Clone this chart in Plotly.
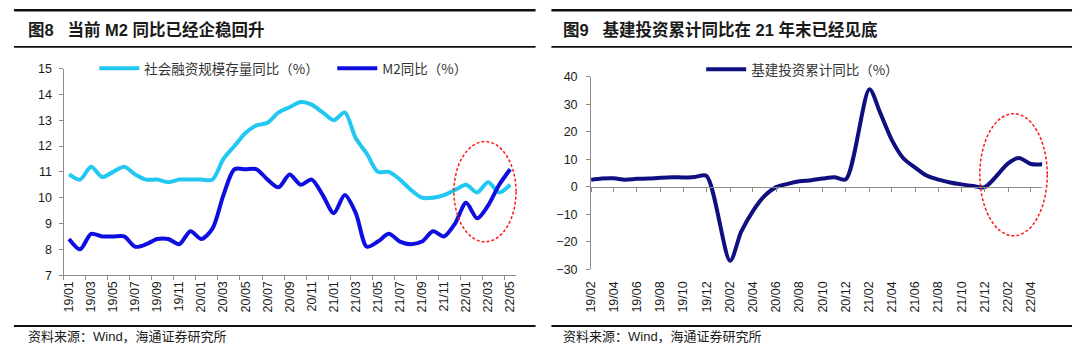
import plotly.graph_objects as go

# ---------------- data: left panel (monthly, 19/01 - 22/05) ----------------
months_left = ['19/01', '19/02', '19/03', '19/04', '19/05', '19/06', '19/07', '19/08', '19/09', '19/10', '19/11', '19/12',
               '20/01', '20/02', '20/03', '20/04', '20/05', '20/06', '20/07', '20/08', '20/09', '20/10', '20/11', '20/12',
               '21/01', '21/02', '21/03', '21/04', '21/05', '21/06', '21/07', '21/08', '21/09', '21/10', '21/11', '21/12',
               '22/01', '22/02', '22/03', '22/04', '22/05']
tsf_yoy = [10.9, 10.7, 11.2, 10.8, 11.0, 11.2, 10.9, 10.7, 10.7, 10.6, 10.7, 10.7,
           10.7, 10.7, 11.5, 12.0, 12.5, 12.8, 12.9, 13.3, 13.5, 13.7, 13.6, 13.3,
           13.0, 13.3, 12.3, 11.7, 11.0, 11.0, 10.7, 10.3, 10.0, 10.0, 10.1, 10.3,
           10.5, 10.2, 10.6, 10.2, 10.5]
m2_yoy = [8.4, 8.0, 8.6, 8.5, 8.5, 8.5, 8.1, 8.2, 8.4, 8.4, 8.2, 8.7,
          8.4, 8.8, 10.1, 11.1, 11.1, 11.1, 10.7, 10.4, 10.9, 10.5, 10.7, 10.1,
          9.4, 10.1, 9.4, 8.1, 8.3, 8.6, 8.3, 8.2, 8.3, 8.7, 8.5, 9.0,
          9.8, 9.2, 9.7, 10.5, 11.1]

# ---------------- data: right panel (cumulative, Jan merged into Feb) ----------------
months_right = ['2019-02-01', '2019-03-01', '2019-04-01', '2019-05-01', '2019-06-01', '2019-07-01', '2019-08-01',
                '2019-09-01', '2019-10-01', '2019-11-01', '2019-12-01',
                '2020-02-01', '2020-03-01', '2020-04-01', '2020-05-01', '2020-06-01', '2020-07-01', '2020-08-01',
                '2020-09-01', '2020-10-01', '2020-11-01', '2020-12-01',
                '2021-02-01', '2021-03-01', '2021-04-01', '2021-05-01', '2021-06-01', '2021-07-01', '2021-08-01',
                '2021-09-01', '2021-10-01', '2021-11-01', '2021-12-01',
                '2022-02-01', '2022-03-01', '2022-04-01', '2022-05-01']
infra_yoy = [2.6, 3.0, 3.1, 2.6, 2.9, 3.0, 3.3, 3.5, 3.4, 3.6, 4.0,
             -26.9, -16.4, -8.8, -3.4, -0.1, 1.1, 2.0, 2.4, 3.0, 3.5, 2.7,
             35.5, 27.0, 17.0, 10.4, 7.0, 4.1, 2.6, 1.6, 0.9, 0.3, -0.1,
             8.6, 10.5, 8.3, 8.2]

W, H = 1080, 361
def px(x):
    return x / W
def py(y):
    return 1 - y / H

FONT = "Liberation Sans, Arial, Noto Sans CJK SC, sans-serif"
CJK = "Noto Sans CJK SC, Liberation Sans, sans-serif"
AXIS_GRAY = '#8c8c8c'
TXT = '#1a1a1a'

fig = go.Figure()

fig.add_trace(go.Scatter(x=months_left, y=tsf_yoy, name='社会融资规模存量同比（%）', mode='lines',
                         line=dict(color='#22C8F2', width=4, shape='spline', smoothing=0.8),
                         xaxis='x', yaxis='y', legend='legend'))
fig.add_trace(go.Scatter(x=months_left, y=m2_yoy, name='M2同比（%）', mode='lines',
                         line=dict(color='#0E0EE0', width=4, shape='spline', smoothing=0.8),
                         xaxis='x', yaxis='y', legend='legend2'))
fig.add_trace(go.Scatter(x=months_right, y=infra_yoy, name='基建投资累计同比（%）', mode='lines',
                         line=dict(color='#0F0F80', width=4, shape='spline', smoothing=0.8),
                         xaxis='x2', yaxis='y2', legend='legend3'))
# helper trace so the zero-line axis of the right panel is drawn
fig.add_trace(go.Scatter(x=months_right, y=infra_yoy, mode='none', showlegend=False, hoverinfo='skip',
                         xaxis='x3', yaxis='y2'))

tickfont = dict(family=FONT, size=12.5, color=TXT)
legfont = dict(family=CJK, size=13.5, color='#333333')

fig.update_layout(
    width=W, height=H, margin=dict(l=0, r=0, t=0, b=0),
    paper_bgcolor='white', plot_bgcolor='white', showlegend=True,
    xaxis=dict(domain=[px(57), px(513)], type='category', anchor='y',
               tickmode='linear', tick0=0, dtick=2, tickson='boundaries',
               ticks='outside', ticklen=4, tickcolor=AXIS_GRAY, tickangle=-90,
               showline=True, linecolor=AXIS_GRAY, linewidth=1, showgrid=False,
               tickfont=tickfont, range=[-0.5, 40.5]),
    yaxis=dict(domain=[py(279), py(64)], anchor='x', range=[7, 15], dtick=1,
               ticks='outside', ticklen=4, tickcolor=AXIS_GRAY, showline=True,
               linecolor=AXIS_GRAY, linewidth=1, showgrid=False, zeroline=False,
               tickfont=tickfont, ticklabelstandoff=4),
    xaxis2=dict(domain=[px(589), px(1044)], type='date', anchor='y2',
                range=['2019-02-01', '2022-05-01'], tick0='2019-02-01', dtick='M2',
                tickformat='%y/%m', tickangle=-90, ticks='outside', ticklen=6,
                tickcolor='rgba(0,0,0,0)', showline=False, showgrid=False, zeroline=False,
                tickfont=tickfont),
    xaxis3=dict(matches='x2', overlaying='x2', anchor='free',
                type='date', tick0='2019-02-01', dtick='M2', showticklabels=False,
                ticks='outside', ticklen=4, tickcolor=AXIS_GRAY, showline=True,
                linecolor=AXIS_GRAY, linewidth=1, showgrid=False, zeroline=False),
    yaxis2=dict(domain=[py(272.9), py(72.7)], anchor='x2', range=[-30, 40], dtick=10,
                ticks='outside', ticklen=4, tickcolor=AXIS_GRAY, showline=True,
                linecolor=AXIS_GRAY, linewidth=1, showgrid=False, zeroline=False,
                tickfont=tickfont, ticklabelstandoff=6),
    legend=dict(x=px(88), y=py(64), xanchor='left', yanchor='middle', orientation='h',
                bgcolor='rgba(0,0,0,0)', borderwidth=0, font=legfont, itemwidth=40),
    legend2=dict(x=px(328), y=py(64), xanchor='left', yanchor='middle', orientation='h',
                 bgcolor='rgba(0,0,0,0)', borderwidth=0, font=legfont, itemwidth=40),
    legend3=dict(x=px(700), y=py(65), xanchor='left', yanchor='middle', orientation='h',
                 bgcolor='rgba(0,0,0,0)', borderwidth=0, font=legfont, itemwidth=40),
)
# zero-line axis position for right panel: paper y of value 0
y2_dom = fig.layout.yaxis2.domain
zero_pos = y2_dom[0] + (0 - (-30)) / (40 - (-30)) * (y2_dom[1] - y2_dom[0])
fig.layout.xaxis3.position = zero_pos

# red dashed ellipses (highlight callouts)
fig.add_shape(type='circle', xref='paper', yref='paper', x0=px(450.7), x1=px(513.3), y0=py(244.3), y1=py(140),
              line=dict(color='#FF1A1A', width=1.5, dash='3px,2px'))
fig.add_shape(type='circle', xref='paper', yref='paper', x0=px(981), x1=px(1049), y0=py(238), y1=py(111),
              line=dict(color='#FF1A1A', width=1.5, dash='3px,2px'))

# rules
for (a, b) in [(7, 533), (549, 1074)]:
    fig.add_shape(type='line', xref='paper', yref='paper', x0=px(a), x1=px(b), y0=py(3.5), y1=py(3.5),
                  line=dict(color='#111111', width=2.5))
    fig.add_shape(type='line', xref='paper', yref='paper', x0=px(a), x1=px(b), y0=py(41.5), y1=py(41.5),
                  line=dict(color='#111111', width=1.8))
    fig.add_shape(type='line', xref='paper', yref='paper', x0=px(a), x1=px(b), y0=py(332), y1=py(332),
                  line=dict(color='#111111', width=2))

# titles and sources
titles = ['<b>图8   当前 M2 同比已经企稳回升</b>', '<b>图9   基建投资累计同比在 21 年末已经见底</b>']
for t, x0 in zip(titles, [19, 559]):
    fig.add_annotation(text=t, xref='paper', yref='paper', x=px(x0), y=py(23), xanchor='left', yanchor='middle',
                       showarrow=False, font=dict(family=FONT, size=16.5, color=TXT))
    fig.add_annotation(text='资料来源：Wind，海通证券研究所', xref='paper', yref='paper', x=px(x0), y=py(343),
                       xanchor='left', yanchor='middle', showarrow=False,
                       font=dict(family=FONT, size=13, color=TXT))

fig.write_html("out.html", config={'displayModeBar': False},
               post_script="document.body.style.margin='0';document.body.style.overflow='hidden';")
